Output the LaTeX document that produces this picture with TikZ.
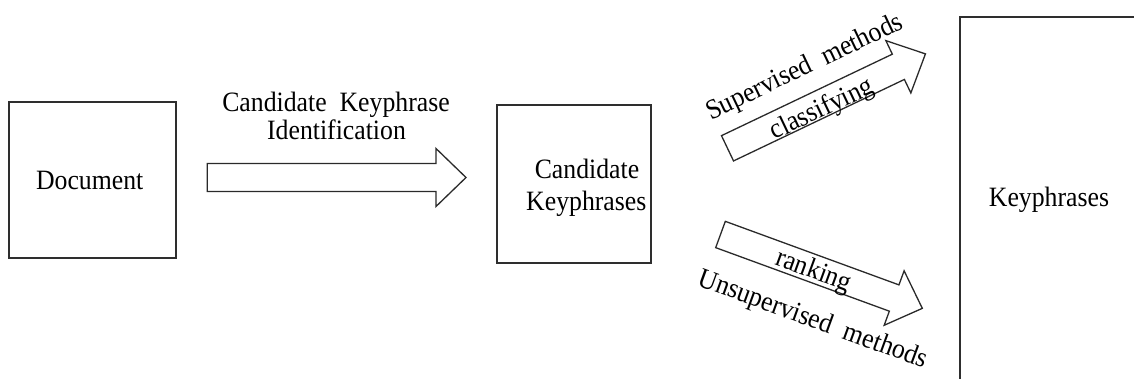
\documentclass[tikz,border=0pt]{standalone}
\usepackage{fontspec}
\setmainfont[FakeStretch=0.92]{Liberation Serif}
\definecolor{boxgray}{HTML}{2E2E2E}
\definecolor{arrgray}{HTML}{2A2A2A}
% hollow block arrow along the local x axis, from (0,0) to (#1,0)
\newcommand{\blockarrow}[1]{%
  \draw[arrowline] (0,-14) -- ({#1-30},-14) -- ({#1-30},-29) -- (#1,0)
    -- ({#1-30},29) -- ({#1-30},14) -- (0,14) -- cycle;}
\begin{document}
\begin{tikzpicture}[x=1pt,y=-1pt,
  box/.style={draw=boxgray, line width=1.6pt, inner sep=0pt},
  lbl/.style={font=\fontsize{28}{30}\selectfont, inner sep=0pt, anchor=base},
  rlbl/.style={font=\fontsize{28}{30}\selectfont, inner sep=0pt, anchor=center, transform shape},
  arrowline/.style={draw=arrgray, line width=1.3pt, line join=miter, fill=white}]
\useasboundingbox (0,0) rectangle (1134,379);
\clip (0,0) rectangle (1134,379);

% boxes
\node[box, minimum width=167pt, minimum height=156pt] (doc) at (92.5,180) {};
\node[box, minimum width=154pt, minimum height=158pt] (cand) at (574,184) {};
\node[box, anchor=north west, minimum width=220pt, minimum height=400pt] (kp) at (959,16) {};

% box texts
\node[lbl] (doctxt) at (89.7,189.3) {Document};
\node[lbl] (candtxt1) at (587,178.3) {Candidate};
\node[lbl] (candtxt2) at (586.3,210.7) {Keyphrases};
\node[lbl] (kptxt) at (1049,206.7) {Keyphrases};

% arrow tails
\coordinate (a1) at (207.3,177.5);
\coordinate (a2) at (727.5,148.3);
\coordinate (a3) at (720.5,234.5);

% Document -> Candidate Keyphrases
\begin{scope}[shift={(a1)}]
  \blockarrow{258.7}
\end{scope}
\node[lbl] (idtxt1) at (336,112) {Candidate\ \ Keyphrase};
\node[lbl] (idtxt2) at (336.5,139.3) {Identification};

% supervised branch
\begin{scope}[shift={(a2)}, rotate=25.5]
  \blockarrow{219.3}
  \node[rlbl] (suptxt) at (104.5,-39) {Supervised\ \ methods};
  \node[rlbl] (clstxt) at (102,6) {classifying};
\end{scope}

% unsupervised branch
\begin{scope}[shift={(a3)}, rotate=-20.1]
  \blockarrow{214.9}
  \node[rlbl] (ranktxt) at (100,3) {ranking};
  \node[rlbl] (unsuptxt) at (116,49) {Unsupervised\ \ methods};
\end{scope}
\end{tikzpicture}
\end{document}
